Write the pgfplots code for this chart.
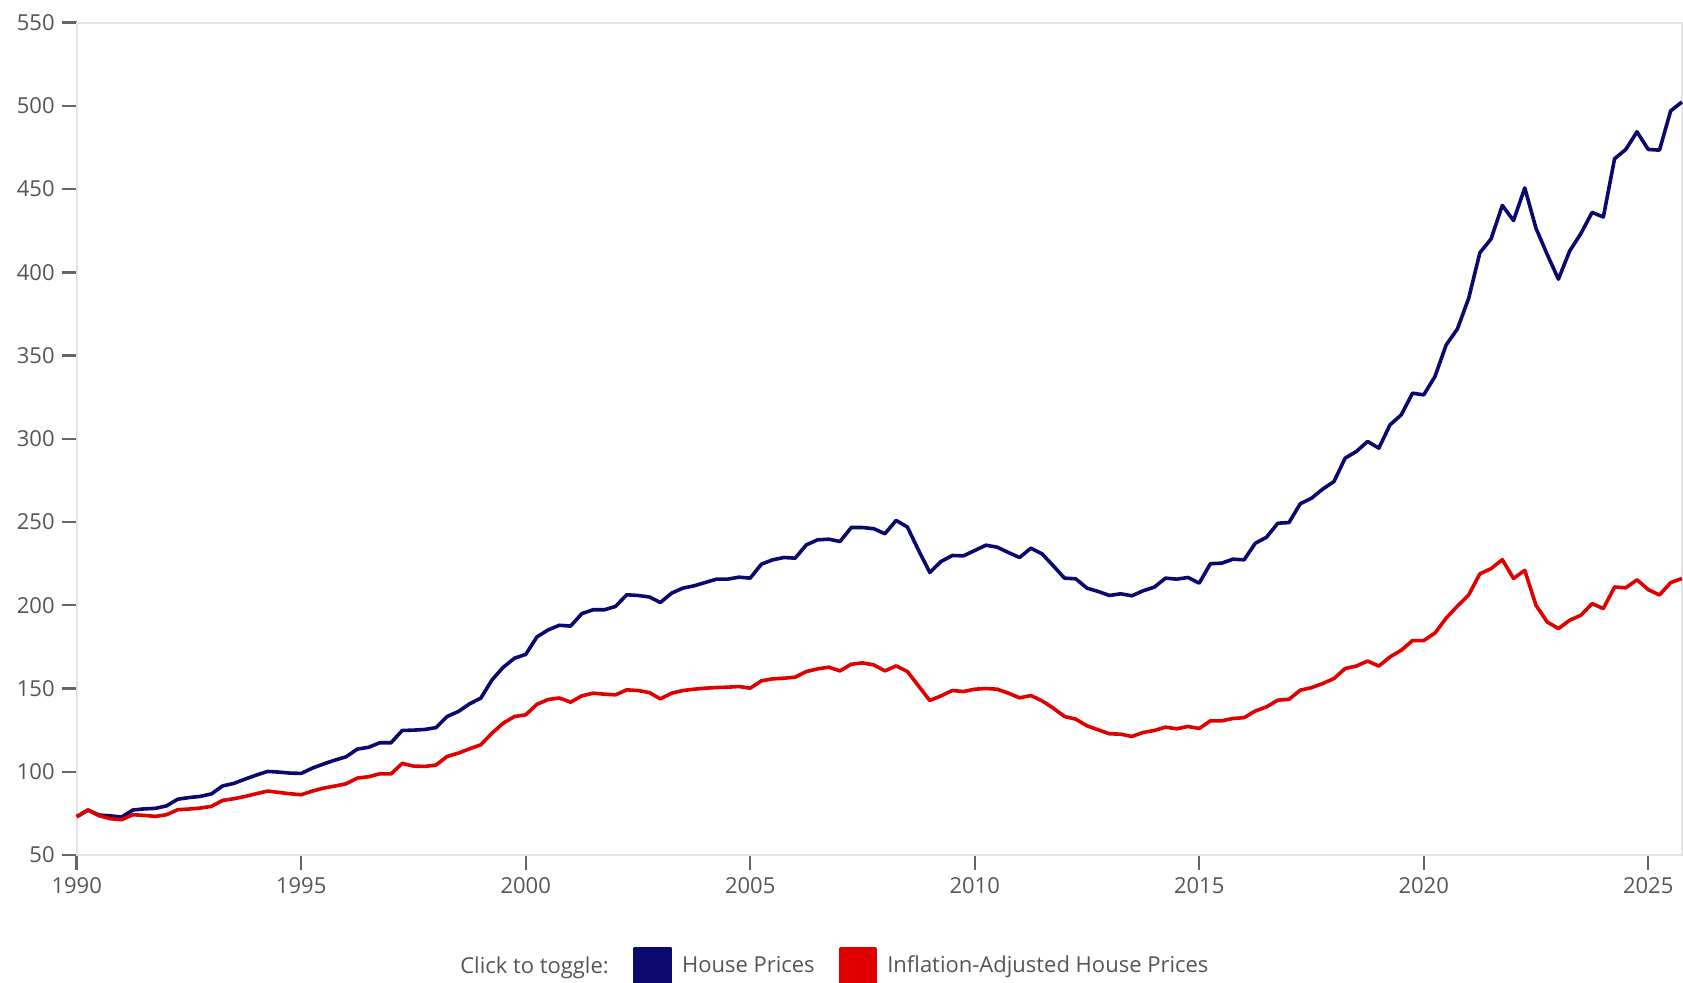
\documentclass[border=0pt]{standalone}
\usepackage{fontspec}
\setmainfont{Open Sans}
\usepackage{pgfplots}
\usepackage{pgfplotstable}
\pgfplotsset{compat=1.18}

\definecolor{hpblue}{HTML}{0A0A6E}
\definecolor{hpred}{HTML}{E00000}
\definecolor{framegray}{HTML}{E3E3E3}
\definecolor{tickgray}{HTML}{666666}
\definecolor{textgray}{HTML}{555555}

% quarterly index values
\pgfplotstableread{
t       hp     real
1990.00 73.0   73.0
1990.25 77.0   77.0
1990.50 74.0   73.6
1990.75 73.5   71.8
1991.00 72.8   71.2
1991.25 77.0   74.2
1991.50 77.7   73.8
1991.75 78.0   73.2
1992.00 79.5   74.2
1992.25 83.5   77.2
1992.50 84.5   77.6
1992.75 85.2   78.2
1993.00 86.7   79.2
1993.25 91.5   82.8
1993.50 93.0   83.8
1993.75 95.6   85.2
1994.00 98.0   86.8
1994.25 100.2  88.4
1994.50 99.8   87.6
1994.75 99.2   86.8
1995.00 99.0   86.2
1995.25 102.2  88.4
1995.50 104.7  90.2
1995.75 107.0  91.4
1996.00 109.0  92.8
1996.25 113.6  96.2
1996.50 114.7  97.0
1996.75 117.4  98.8
1997.00 117.4  98.7
1997.25 124.8  105.0
1997.50 125.0  103.4
1997.75 125.4  103.2
1998.00 126.5  104.0
1998.25 133.2  109.2
1998.50 136.2  111.2
1998.75 140.8  113.8
1999.00 144.2  116.2
1999.25 155.2  123.2
1999.50 162.8  129.2
1999.75 168.2  133.2
2000.00 170.5  134.2
2000.25 181.0  140.5
2000.50 185.2  143.4
2000.75 188.0  144.3
2001.00 187.5  141.8
2001.25 195.0  145.6
2001.50 197.3  147.2
2001.75 197.3  146.6
2002.00 199.3  146.2
2002.25 206.3  149.2
2002.50 205.9  148.8
2002.75 205.0  147.6
2003.00 201.7  143.8
2003.25 207.3  147.2
2003.50 210.3  148.8
2003.75 211.7  149.6
2004.00 213.7  150.2
2004.25 215.7  150.6
2004.50 215.7  150.8
2004.75 216.9  151.2
2005.00 216.3  150.2
2005.25 224.7  154.6
2005.50 227.3  155.8
2005.75 228.7  156.2
2006.00 228.3  156.8
2006.25 236.3  160.2
2006.50 239.3  161.8
2006.75 239.7  162.8
2007.00 238.3  160.6
2007.25 246.7  164.6
2007.50 246.7  165.4
2007.75 246.0  164.2
2008.00 243.0  160.6
2008.25 251.0  163.6
2008.50 247.0  160.2
2008.75 233.0  151.5
2009.00 219.7  142.8
2009.25 226.3  145.6
2009.50 229.9  148.8
2009.75 229.7  148.2
2010.00 232.9  149.6
2010.25 236.1  150.0
2010.50 234.9  149.6
2010.75 231.7  147.2
2011.00 228.7  144.4
2011.25 234.3  145.8
2011.50 230.9  142.6
2011.75 223.7  138.2
2012.00 216.3  133.2
2012.25 215.9  131.6
2012.50 210.3  127.6
2012.75 208.3  125.2
2013.00 205.9  122.8
2013.25 206.9  122.6
2013.50 205.7  121.2
2013.75 208.7  123.6
2014.00 210.9  124.8
2014.25 216.3  126.8
2014.50 215.7  125.8
2014.75 216.7  127.2
2015.00 213.3  126.0
2015.25 225.0  130.6
2015.50 225.3  130.6
2015.75 227.7  132.0
2016.00 227.3  132.5
2016.25 237.3  136.5
2016.50 240.9  139.0
2016.75 249.3  143.0
2017.00 249.7  143.5
2017.25 261.0  149.0
2017.50 264.3  150.5
2017.75 269.8  153.0
2018.00 274.3  156.0
2018.25 288.4  162.0
2018.50 292.4  163.5
2018.75 298.4  166.5
2019.00 294.4  163.5
2019.25 308.4  169.0
2019.50 314.4  173.0
2019.75 327.4  178.8
2020.00 326.4  178.8
2020.25 337.4  183.3
2020.50 356.4  192.3
2020.75 366.0  199.5
2021.00 384.3  206.2
2021.25 411.7  218.9
2021.50 420.1  222.0
2021.75 440.2  227.4
2022.00 431.1  216.1
2022.25 450.7  221.0
2022.50 426.5  200.0
2022.75 410.7  190.0
2023.00 395.9  186.0
2023.25 412.8  191.0
2023.50 423.3  194.0
2023.75 436.0  201.0
2024.00 433.2  198.0
2024.25 468.2  211.0
2024.50 473.8  210.5
2024.75 484.4  215.3
2025.00 473.8  209.4
2025.25 473.4  206.2
2025.50 497.0  213.6
2025.75 502.3  216.1
}\prices

\begin{document}
\begin{tikzpicture}
  \useasboundingbox (0,0) rectangle (841.5pt,491pt);
  \begin{axis}[
      at={(38.35pt,63.5pt)}, anchor=south west,
      scale only axis,
      width=802.6pt, height=416.2pt,
      clip=false,
      xmin=1990, xmax=2025.75,
      ymin=50, ymax=550,
      xtick={1990,1995,...,2025},
      ytick={50,100,...,550},
      xtick pos=left, ytick pos=left,
      tick align=outside,
      major tick length=7.5pt,
      tick style={draw=tickgray, line width=1.2pt},
      axis line style={draw=framegray, line width=1pt},
      ticklabel style={font=\fontsize{11}{13}\selectfont, text=textgray},
      /pgf/number format/assume math mode=true,
      /pgf/number format/1000 sep={},
      legend columns=-1,
      legend style={
          draw=none, fill=none, inner sep=0pt,
          at={(axis description cs:0.3466,-0.1334)}, anchor=west,
          font=\fontsize{11}{13}\selectfont, text=textgray,
          /tikz/every odd column/.append style={column sep=3pt},
          /tikz/every even column/.append style={column sep=10pt}
        },
      legend image code/.code={
          \fill[#1] (0pt,-8.75pt) rectangle (17.5pt,8.75pt);
        },
    ]
    \addplot[hpblue, line width=1.8pt, line join=round] table[x=t, y=hp] {\prices};
    \addlegendentry{House Prices}
    \addplot[hpred, line width=1.8pt, line join=round] table[x=t, y=real] {\prices};
    \addlegendentry{Inflation-Adjusted House Prices}

    \node[anchor=base east, font=\fontsize{11}{13}\selectfont, text=textgray, inner sep=0pt]
      at (axis description cs:0.3317,-0.1418) {Click to toggle:};
  \end{axis}
\end{tikzpicture}
\end{document}
